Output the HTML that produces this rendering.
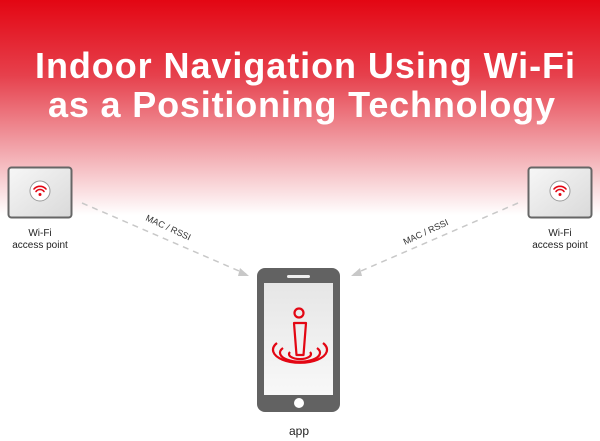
<!DOCTYPE html>
<html><head><meta charset="utf-8"><style>
html,body{margin:0;padding:0;width:600px;height:441px;overflow:hidden;background:#fff}
</style></head><body>
<svg width="600" height="441" viewBox="0 0 600 441" xmlns="http://www.w3.org/2000/svg" font-family="Liberation Sans, sans-serif">
<defs>
<linearGradient id="g" x1="0" y1="0" x2="0" y2="1">
<stop offset="0" stop-color="#e30613"/>
<stop offset="0.35" stop-color="#e6404c"/>
<stop offset="0.7" stop-color="#f2a7ad"/>
<stop offset="1" stop-color="#ffffff"/>
</linearGradient>
<linearGradient id="box" x1="0" y1="0" x2="1" y2="1">
<stop offset="0" stop-color="#f7f7f7"/><stop offset="1" stop-color="#d9d9d9"/>
</linearGradient>
<linearGradient id="scr" x1="0" y1="0" x2="0" y2="1">
<stop offset="0" stop-color="#e6e6e6"/><stop offset="1" stop-color="#f8f8f8"/>
</linearGradient>
</defs>
<rect x="0" y="0" width="600" height="215" fill="url(#g)"/>
<g fill="#fff" font-weight="bold" font-size="36">
<text x="35" y="78" textLength="540" lengthAdjust="spacing">Indoor Navigation Using Wi-Fi</text>
<text x="48" y="117" textLength="507" lengthAdjust="spacing">as a Positioning Technology</text>
</g>
<g id="ap">
<rect x="8.5" y="167.5" width="63" height="50" rx="3" fill="url(#box)" stroke="#666" stroke-width="2"/>
<circle cx="40" cy="191" r="10" fill="#fff" stroke="#999" stroke-width="1"/>
<g fill="none" stroke="#e30613" stroke-width="1.6" stroke-linecap="round">
<path d="M34 189 a8 8 0 0 1 12 0"/>
<path d="M36 191.5 a5 5 0 0 1 8 0"/>
</g>
<circle cx="40" cy="194.5" r="1.5" fill="#e30613"/>
<text x="40" y="236" font-size="10" text-anchor="middle" fill="#222">Wi-Fi</text>
<text x="40" y="248" font-size="10" text-anchor="middle" fill="#222">access point</text>
</g>
<use href="#ap" transform="translate(520,0)"/>
<g stroke="#c8c8c8" stroke-width="1.5" stroke-dasharray="6,5" fill="none">
<path d="M82 203 L246 274"/>
<path d="M518 203 L354 274"/>
</g>
<path d="M240 268 L249 276 L238 276 Z" fill="#c8c8c8"/>
<path d="M360 268 L351 276 L362 276 Z" fill="#c8c8c8"/>
<text transform="translate(145,220) rotate(25)" font-size="9" fill="#333">MAC / RSSI</text>
<text transform="translate(405,245) rotate(-25)" font-size="9" fill="#333">MAC / RSSI</text>
<rect x="257" y="268" width="83" height="144" rx="8" fill="#626262"/>
<rect x="264" y="283" width="69" height="112" fill="url(#scr)"/>
<rect x="287" y="275" width="23" height="3" rx="1.5" fill="#eee"/>
<circle cx="299" cy="403" r="5" fill="#fff"/>
<g fill="none" stroke="#e30613" stroke-width="2.2" stroke-linejoin="round">
<circle cx="299" cy="313" r="4.5"/>
<path d="M294 323 L306 323 L303.5 355 L296.5 355 Z"/>
<path d="M290 352 A11 5 0 1 0 310 352"/>
<path d="M283 348 A20 9 0 1 0 317 348"/>
<path d="M277 343 A27 13 0 1 0 323 343"/>
</g>
<text x="299" y="435" font-size="12" text-anchor="middle" fill="#222">app</text>
</svg>
</body></html>
